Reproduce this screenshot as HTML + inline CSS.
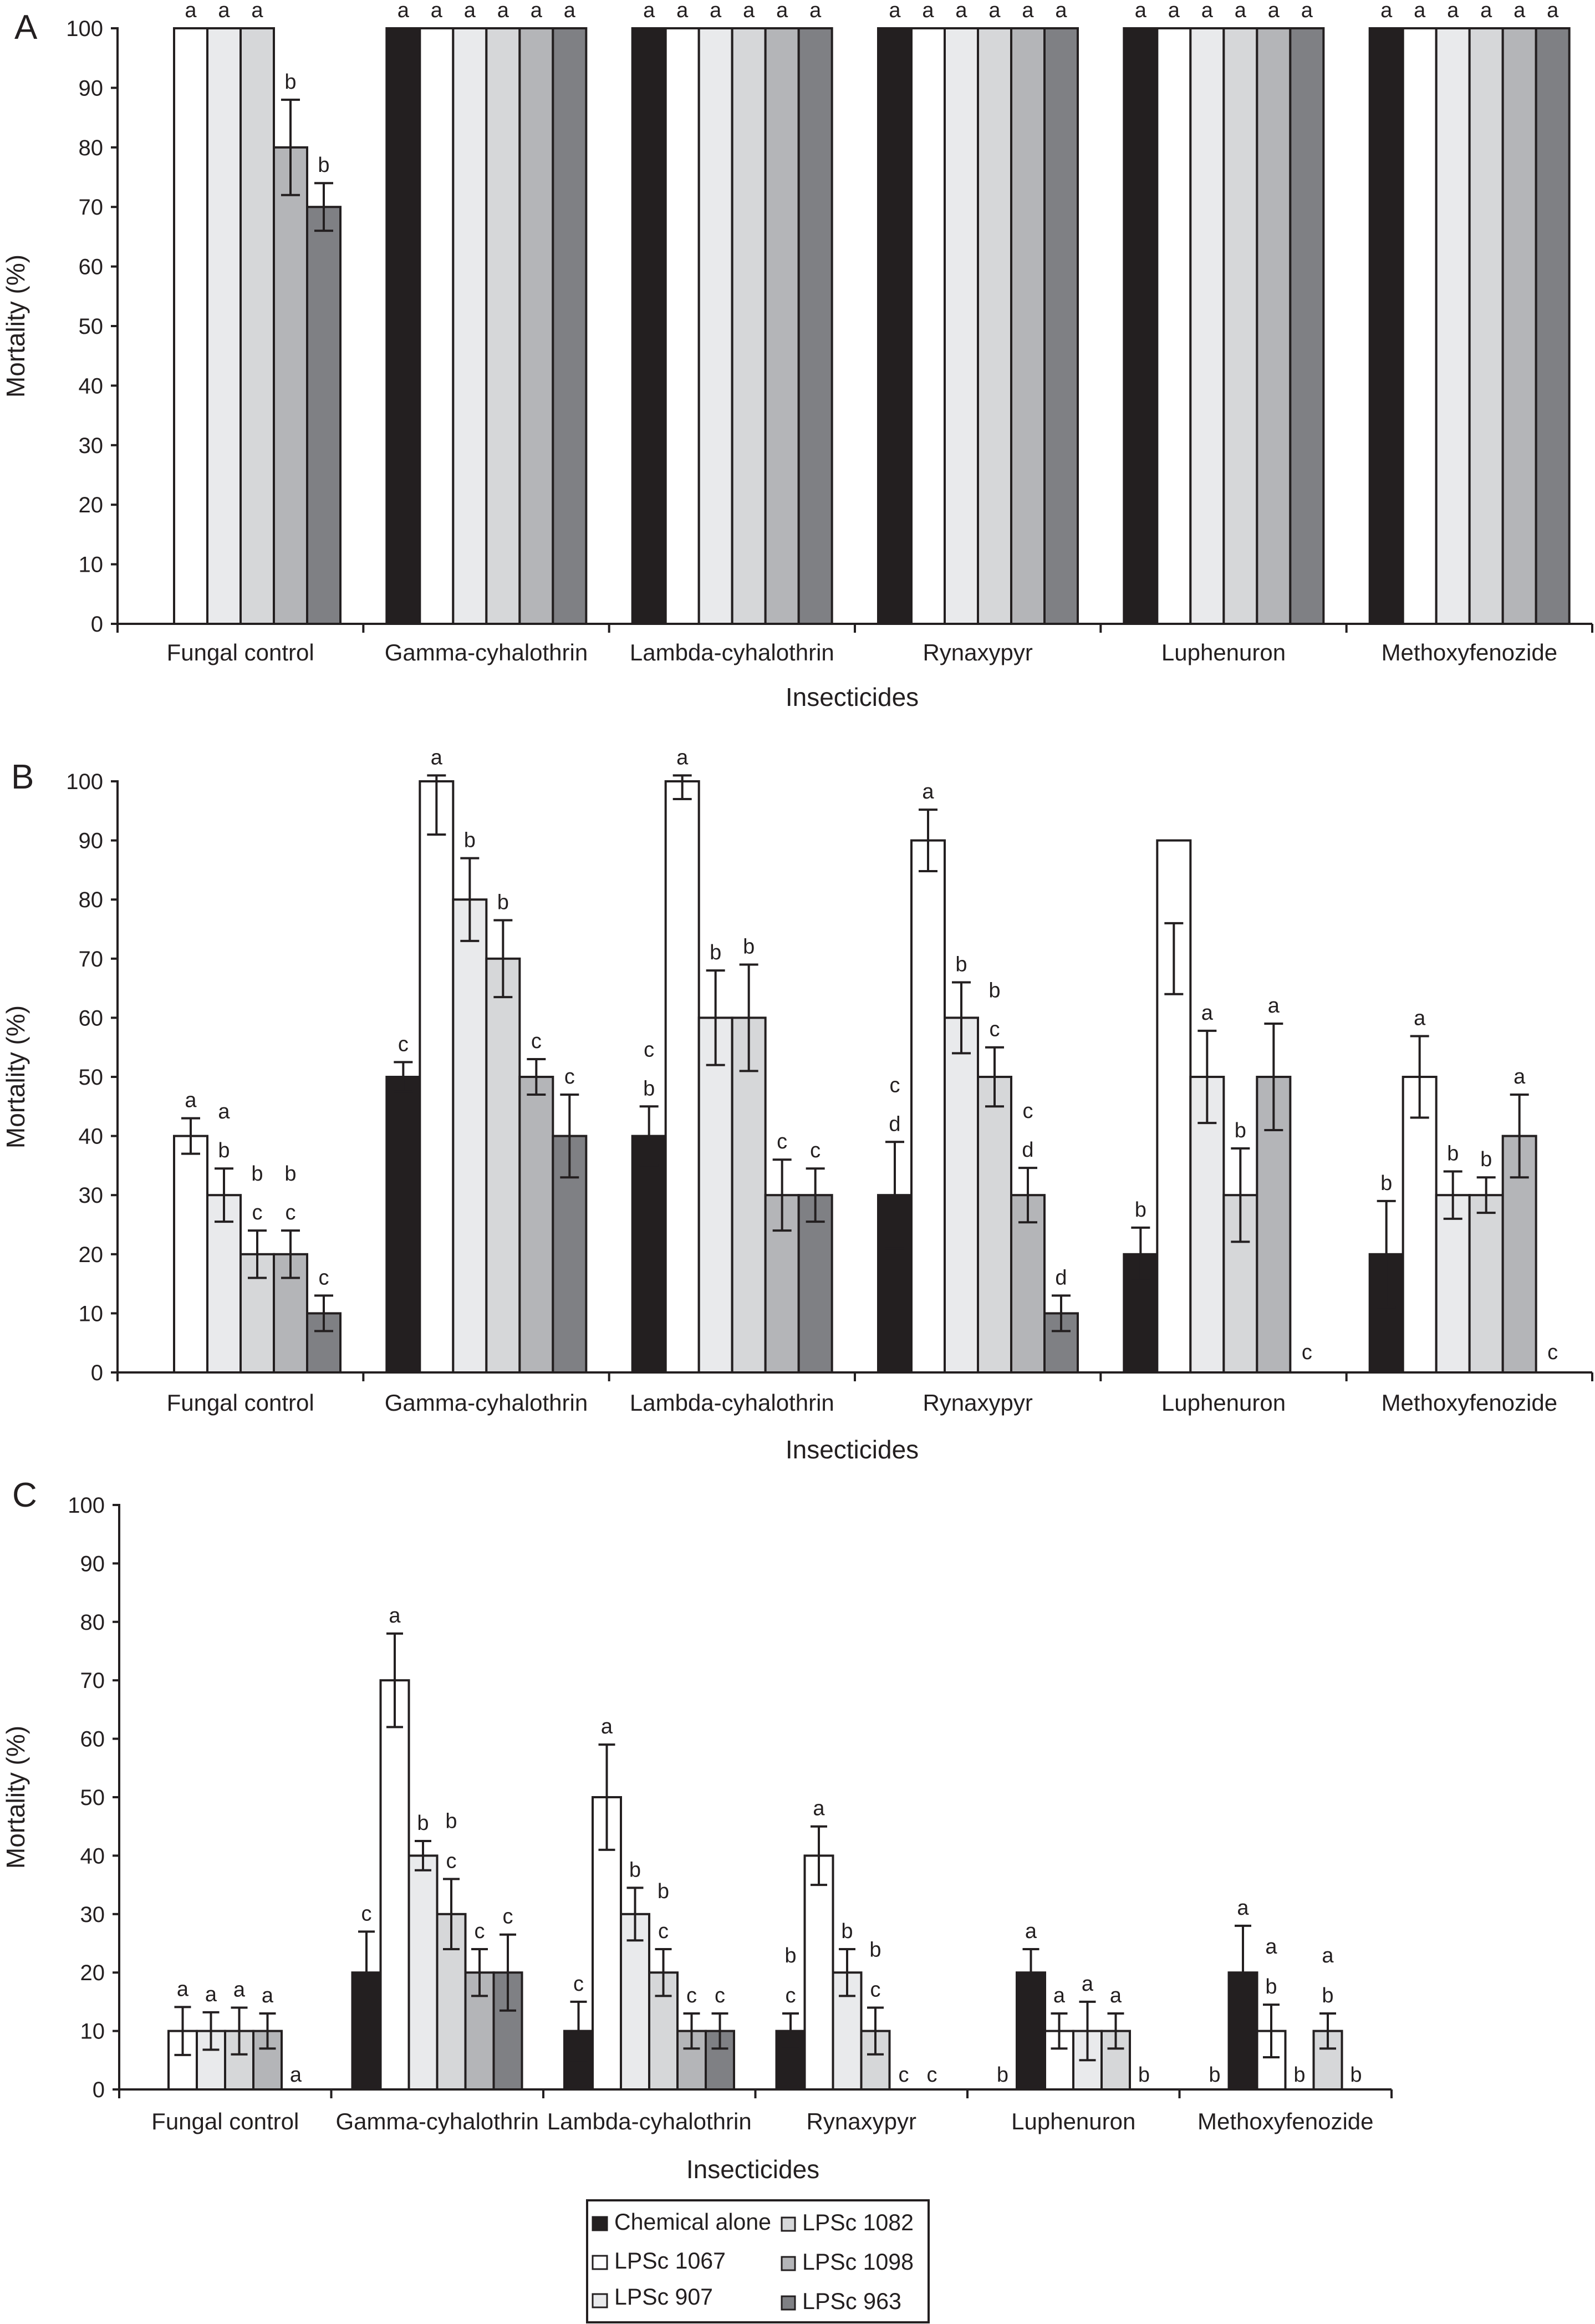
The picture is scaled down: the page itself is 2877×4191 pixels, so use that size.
<!DOCTYPE html>
<html><head><meta charset="utf-8"><style>
html,body{margin:0;padding:0;background:#fff}
svg{display:block}
text{font-family:"Liberation Sans",Arial,sans-serif;fill:#231f20}
</style></head><body>
<svg id="fig" xmlns="http://www.w3.org/2000/svg" width="2877" height="4191" viewBox="0 0 2877 4191">
<g id="legend">
<rect x="1059" y="3968" width="616" height="220" fill="#fff" stroke="#231f20" stroke-width="4"/>
<g><rect x="1069" y="3998" width="26" height="24" fill="#231f20" stroke="#231f20" stroke-width="3"/><text x="1108" y="4021" font-size="42" textLength="283" lengthAdjust="spacingAndGlyphs">Chemical alone</text></g>
<g><rect x="1069" y="4068" width="26" height="24" fill="#fff" stroke="#231f20" stroke-width="3"/><text x="1108" y="4091" font-size="42" textLength="201" lengthAdjust="spacingAndGlyphs">LPSc 1067</text></g>
<g><rect x="1069" y="4137" width="26" height="24" fill="#e9eaec" stroke="#231f20" stroke-width="3"/><text x="1108" y="4156" font-size="42" textLength="178" lengthAdjust="spacingAndGlyphs">LPSc 907</text></g>
<g><rect x="1410" y="3999" width="24" height="24" fill="#d6d7d9" stroke="#231f20" stroke-width="3"/><text x="1447" y="4022" font-size="42" textLength="201" lengthAdjust="spacingAndGlyphs">LPSc 1082</text></g>
<g><rect x="1410" y="4070" width="24" height="24" fill="#b4b5b8" stroke="#231f20" stroke-width="3"/><text x="1447" y="4093" font-size="42" textLength="201" lengthAdjust="spacingAndGlyphs">LPSc 1098</text></g>
<g><rect x="1410" y="4141" width="24" height="24" fill="#7f8084" stroke="#231f20" stroke-width="3"/><text x="1447" y="4164" font-size="42" textLength="179" lengthAdjust="spacingAndGlyphs">LPSc 963</text></g>
</g>
</svg>
<script>
const categories = ["Fungal control","Gamma-cyhalothrin","Lambda-cyhalothrin","Rynaxypyr","Luphenuron","Methoxyfenozide"];
const seriesNames = ["Chemical alone","LPSc 1067","LPSc 907","LPSc 1082","LPSc 1098","LPSc 963"];
const seriesColors = ["#231f20","#ffffff","#e9eaec","#d6d7d9","#b4b5b8","#7f8084"];
const yTicks = [0,10,20,30,40,50,60,70,80,90,100];

// Panel A
const valsA = [[0,100,100,100,80,70],[100,100,100,100,100,100],[100,100,100,100,100,100],[100,100,100,100,100,100],[100,100,100,100,100,100],[100,100,100,100,100,100]];
const errA = [[0,0,0,0,8,4],[0,0,0,0,0,0],[0,0,0,0,0,0],[0,0,0,0,0,0],[0,0,0,0,0,0],[0,0,0,0,0,0]];
const errMidA = [[null,null,null,null,null,null],[null,null,null,null,null,null],[null,null,null,null,null,null],[null,null,null,null,null,null],[null,null,null,null,null,null],[null,null,null,null,null,null]];
const lettersA = [["","a","a","a","b","b"],["a","a","a","a","a","a"],["a","a","a","a","a","a"],["a","a","a","a","a","a"],["a","a","a","a","a","a"],["a","a","a","a","a","a"]];
const shiftA = [0,0,0,0,0,0];
const preLettersA = ["","","","","",""];

// Panel B
const valsB = [[0,40,30,20,20,10],[50,100,80,70,50,40],[40,100,60,60,30,30],[30,90,60,50,30,10],[20,90,50,30,50,0],[20,50,30,30,40,0]];
const errB = [[0,3,4.5,4,4,3],[2.5,9,7,6.5,3,7],[5,3,8,9,6,4.5],[9,5.2,6,5,4.6,3],[4.5,6,7.8,7.9,9,0],[9,6.9,4,3,7,0]];
const errMidB = [[null,null,null,null,null,null],[null,null,null,null,null,null],[null,null,null,null,null,null],[null,null,null,null,null,null],[null,70,null,null,null,null],[null,null,null,null,null,null]];
const lettersB = [["","a","ab","bc","bc","c"],["c","a","b","b","c","c"],["cb","a","b","b","c","c"],["cd","a","b","bc","cd","d"],["b","","a","b","a","c"],["b","a","b","b","a","c"]];
const shiftB = [0,0,0,0,0,0];
const preLettersB = ["","","","","",""];

// Panel C
const valsC = [[0,10,10,10,10,0],[20,70,40,30,20,20],[10,50,30,20,10,10],[10,40,20,10,0,0],[20,10,10,10,0,0],[20,10,0,10,0,0]];
const errC = [[0,4.1,3.2,4,3,0],[7,8,2.5,6,4,6.5],[5,9,4.5,4,3,3],[3,5,4,4,0,0],[4,3,5,3,0,0],[8,4.5,0,3,0,0]];
const errMidC = [[null,null,null,null,null,null],[null,null,null,null,null,null],[null,null,null,null,null,null],[null,null,null,null,null,null],[null,null,null,null,null,null],[null,null,null,null,null,null]];
const lettersC = [["","a","a","a","a","a"],["c","a","b","bc","c","c"],["c","a","b","bc","c","c"],["bc","a","b","bc","c","c"],["a","a","a","a","b",""],["a","ab","b","ab","b",""]];
const shiftC = [0,0,0,0,1,1];
const preLettersC = ["","","","","b","b"];

const NS = "http://www.w3.org/2000/svg";
const svg = document.getElementById('fig');
const INK = "#231f20";
function mk(tag, attrs, parent){const e=document.createElementNS(NS,tag);for(const k in attrs)e.setAttribute(k,attrs[k]);(parent||svg).appendChild(e);return e;}

function drawPanel(cfg){
  const g = mk('g',{});
  
  
  const catW = (cfg.x1 - cfg.x0) / categories.length;
  const yS = v => cfg.y0 - (cfg.y0 - cfg.y100) * v / 100;
  const catX = i => cfg.x0 + catW * i;
  const slotX = (i, s) => catX(i) + cfg.pad + s * cfg.barW;
  categories.forEach((c, i) => {
    const vals = cfg.vals[i];
    for (let s = 0; s < vals.length; s++) {
      const slot = s + cfg.shift[i];
      if (slot > 5) continue;
      const v = vals[s];
      const x = slotX(i, slot);
      if (v > 0) {
        const r = mk('rect',{x:x, y:yS(v), width:cfg.barW, height:yS(0)-yS(v), fill:seriesColors[s], stroke:INK, 'stroke-width':4}, g);
        
        
      }
      const e = cfg.err[i][s];
      let top = yS(v);
      if (e > 0) {
        const mid = cfg.errMid[i][s] !== null ? cfg.errMid[i][s] : v;
        const hi = Math.min(mid + e, 101), lo = mid - e;
        const cx = x + cfg.barW / 2;
        const eg = mk('g',{stroke:INK,'stroke-width':4}, g);
        
        
        mk('line',{x1:cx,x2:cx,y1:yS(hi),y2:yS(lo)}, eg);
        mk('line',{x1:cx-cfg.cap,x2:cx+cfg.cap,y1:yS(hi),y2:yS(hi)}, eg);
        mk('line',{x1:cx-cfg.cap,x2:cx+cfg.cap,y1:yS(lo),y2:yS(lo)}, eg);
        if (mid === v) top = Math.min(top, yS(hi));
      }
      const L = cfg.letters[i][s];
      if (L) {
        const base = (v === 0 && e === 0) ? yS(0) - cfg.zeroOff : top - 20;
        for (let k = 0; k < L.length; k++) {
          const t = mk('text',{x:x + cfg.barW/2, y: base - (L.length-1-k)*cfg.lineH, 'font-size':cfg.letterFs, 'text-anchor':'middle'}, g);
          t.textContent = L[k];
          
          
        }
      }
    }
    if (cfg.pre[i]) {
      const t = mk('text',{x:slotX(i,0)+cfg.barW/2, y:yS(0)-cfg.zeroOff, 'font-size':cfg.letterFs, 'text-anchor':'middle'}, g);
      t.textContent = cfg.pre[i];
      
      
    }
    const cl = mk('text',{x:catX(i)+catW/2, y:cfg.catY, 'font-size':cfg.catFs, 'text-anchor':'middle'}, g);
    cl.textContent = c;
    
    
  });
  const ax = mk('g',{stroke:INK,'stroke-width':4}, g);
  
  
  mk('line',{x1:cfg.x0,x2:cfg.x0,y1:yS(100)-2,y2:yS(0)+16}, ax);
  mk('line',{x1:cfg.x0,x2:cfg.x1,y1:yS(0),y2:yS(0)}, ax);
  for (let i = 1; i <= categories.length; i++) mk('line',{x1:catX(i),x2:catX(i),y1:yS(0),y2:yS(0)+16}, ax);
  yTicks.forEach(t => {
    mk('line',{x1:cfg.x0-12,x2:cfg.x0,y1:yS(t),y2:yS(t)}, ax);
    const tl = mk('text',{x:cfg.x0-26, y:yS(t)+14, 'font-size':cfg.tickFs, 'text-anchor':'end'}, g);
    tl.textContent = t;
    
    
  });
  const yt = mk('text',{x:0,y:0,'font-size':46,'text-anchor':'middle',transform:`translate(44,${(yS(0)+yS(100))/2}) rotate(-90)`}, g);
  yt.textContent = "Mortality (%)";
  
  
  const xt = mk('text',{x:cfg.xtX, y:cfg.xtY, 'font-size':46, 'text-anchor':'middle'}, g);
  xt.textContent = "Insecticides";
  
  
  const pl = mk('text',{x:cfg.lx, y:cfg.ly, 'font-size':62}, g);
  pl.textContent = cfg.id;
  
  
}
const base = {pad:42, barW:60, cap:17, letterFs:38, lineH:70, zeroOff:24, catFs:42, tickFs:40};
drawPanel(Object.assign({}, base, {id:'A', x0:212, x1:2872, y0:1125, y100:51, vals:valsA, err:errA, errMid:errMidA, letters:lettersA, shift:shiftA, pre:preLettersA, catY:1191, xtX:1537, xtY:1273, lx:26, ly:70}));
drawPanel(Object.assign({}, base, {id:'B', x0:212, x1:2872, y0:2475, y100:1409, vals:valsB, err:errB, errMid:errMidB, letters:lettersB, shift:shiftB, pre:preLettersB, catY:2544, xtX:1537, xtY:2630, lx:20, ly:1422}));
drawPanel(Object.assign({}, base, {id:'C', x0:215, x1:2510, y0:3768, y100:2714, pad:38, barW:51, cap:15, lineH:72, zeroOff:14, vals:valsC, err:errC, errMid:errMidC, letters:lettersC, shift:shiftC, pre:preLettersC, catY:3840, xtX:1358, xtY:3928, lx:22, ly:2717}));
</script>
</body></html>
